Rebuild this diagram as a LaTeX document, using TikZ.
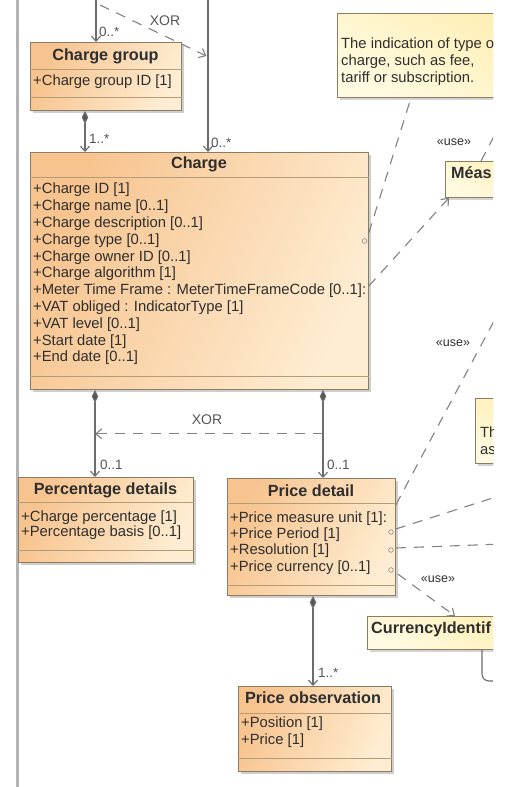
\documentclass[tikz,border=0pt]{standalone}
\usepackage{fontspec}
\setmainfont{Liberation Sans}
\usetikzlibrary{arrows.meta,shadows,calc}
\definecolor{clsA}{HTML}{F7C38E}
\definecolor{clsB}{HTML}{FEEDD2}
\definecolor{noteA}{HTML}{FFEFB4}
\definecolor{noteB}{HTML}{FFFBE2}
\definecolor{boxborder}{HTML}{8E7C62}
\definecolor{sepcol}{HTML}{B59B76}
\definecolor{linecol}{HTML}{6C6C6C}
\definecolor{txtcol}{HTML}{2E2E2E}
\definecolor{multcol}{HTML}{555555}
\definecolor{framecol}{HTML}{B4B4B4}
\newcommand{\attrfont}{\fontsize{14.8}{16.8}\selectfont}
\newcommand{\ttlfont}{\fontsize{16.2}{18}\selectfont\bfseries}
\newcommand{\multfont}{\fontsize{13.5}{15}\selectfont}
\newcommand{\stereofont}{\fontsize{12.5}{14}\selectfont}
\tikzset{
  cls/.style={draw=boxborder, line width=0.8pt, top color=clsA, bottom color=clsB,
    shading angle=65, inner sep=0pt, anchor=north west,
    drop shadow={shadow xshift=2.5pt, shadow yshift=-2.5pt, opacity=0.35, fill=black!55}},
  notebox/.style={draw=boxborder, line width=0.8pt, top color=noteA, bottom color=noteB,
    shading angle=-30, inner sep=0pt, anchor=north west,
    drop shadow={shadow xshift=2.5pt, shadow yshift=-2.5pt, opacity=0.3, fill=black!55}},
  ttl/.style={font=\ttlfont, text=txtcol, inner sep=0pt},
  attr/.style={font=\attrfont, text=txtcol, inner sep=0pt, anchor=west},
  sepline/.style={draw=sepcol, line width=0.7pt},
  assoc/.style={draw=linecol, line width=1.1pt},
  comp/.style={assoc, {Diamond[length=13pt,width=6.5pt,fill=linecol!80!black]}-{Straight Barb[length=5pt,width=9pt]}},
  navi/.style={assoc, -{Straight Barb[length=5pt,width=9pt]}},
  dep/.style={draw=linecol!85, line width=1.1pt, dash pattern=on 10pt off 8pt},
  deparrow/.style={dep, -{Straight Barb[length=6pt,width=10pt]}},
  mult/.style={font=\multfont, text=multcol, inner sep=0pt, anchor=west},
  stereo/.style={font=\stereofont, text=txtcol, inner sep=0pt},
  anchormark/.style={draw=linecol!80, line width=0.6pt}
}
\begin{document}
\begin{tikzpicture}[x=1pt,y=-1pt]
\useasboundingbox[fill=white] (0,0) rectangle (506,787);
\begin{scope}
\clip (0,0) rectangle (493,787);

% frame line on the left
\draw[framecol, line width=3pt] (17,0) -- (17,787);

% ---------- notes and other classifiers ----------
\node[notebox, minimum width=200pt, minimum height=84pt] (note1) at (337,13) {};
\node[attr, anchor=north west, align=left, font=\attrfont] (note1txt) at (341,38)
  {The indication of type of\\charge, such as fee,\\tariff or subscription.};

\node[notebox, minimum width=100pt, minimum height=36pt] (meas) at (445,161) {};
\node[ttl, anchor=west] (measT) at (451,173) {Méas};

\node[notebox, minimum width=60pt, minimum height=65pt] (note2) at (475,398) {};
\node[attr, anchor=west] (note2a) at (480,432) {Th};
\node[attr, anchor=west] (note2b) at (480,451) {as};

\node[notebox, minimum width=160pt, minimum height=33pt] (cur) at (367,616) {};
\node[ttl, anchor=west] (curT) at (371,629) {CurrencyIdentif};

% ---------- Charge group ----------
\node[cls, minimum width=151pt, minimum height=68pt] (cg) at (30,42) {};
\node[ttl] (cgT) at (105.5,56) {Charge group};
\draw[sepline] (cg.north west |- 0,69) -- (cg.north east |- 0,69);
\node[attr] (cgA) at (33,82) {+Charge group ID [1]};
\draw[sepline] (cg.north west |- 0,97) -- (cg.north east |- 0,97);

% ---------- Charge ----------
\node[cls, minimum width=338pt, minimum height=237pt] (charge) at (30,152) {};
\node[ttl] (chargeT) at (199,164) {Charge};
\draw[sepline] (charge.north west |- 0,177) -- (charge.north east |- 0,177);
\foreach \t [count=\i] in {+Charge ID [1], +Charge name [0..1], +Charge description [0..1],
  +Charge type [0..1], +Charge owner ID [0..1], +Charge algorithm [1],
  +Meter Time Frame : MeterTimeFrameCode [0..1]:, +VAT obliged : IndicatorType [1],
  +VAT level [0..1], +Start date [1], +End date [0..1]}
  \node[attr] (chA\i) at (33,{190+16.8*(\i-1)}) {\t};
\draw[sepline] (charge.north west |- 0,376) -- (charge.north east |- 0,376);
\draw[anchormark] (364.5,241) circle (2.4pt);

% ---------- Percentage details ----------
\node[cls, minimum width=175pt, minimum height=85pt] (pct) at (18,477) {};
\node[ttl] (pctT) at (105.5,490) {Percentage details};
\draw[sepline] (pct.north west |- 0,502) -- (pct.north east |- 0,502);
\node[attr] (pctA1) at (21,517.5) {+Charge percentage [1]};
\node[attr] (pctA2) at (21,533) {+Percentage basis [0..1]};
\draw[sepline] (pct.north west |- 0,550) -- (pct.north east |- 0,550);

% ---------- Price detail ----------
\node[cls, minimum width=168pt, minimum height=117pt] (pd) at (227,478) {};
\node[ttl] (pdT) at (311,491) {Price detail};
\draw[sepline] (pd.north west |- 0,503) -- (pd.north east |- 0,503);
\node[attr] (pdA1) at (230,519) {+Price measure unit [1]:};
\node[attr] (pdA2) at (230,535) {+Price Period [1]};
\node[attr] (pdA3) at (230,551) {+Resolution [1]};
\node[attr] (pdA4) at (230,568) {+Price currency [0..1]};
\draw[sepline] (pd.north west |- 0,585) -- (pd.north east |- 0,585);
\draw[anchormark] (391,532) circle (2.3pt);
\draw[anchormark] (391,550) circle (2.3pt);
\draw[anchormark] (391,570) circle (2.3pt);

% ---------- Price observation ----------
\node[cls, minimum width=153pt, minimum height=85pt] (po) at (238,686) {};
\node[ttl] (poT) at (313,698) {Price observation};
\draw[sepline] (po.north west |- 0,713) -- (po.north east |- 0,713);
\node[attr] (poA1) at (241,724) {+Position [1]};
\node[attr] (poA2) at (241,741) {+Price [1]};
\draw[sepline] (po.north west |- 0,758) -- (po.north east |- 0,758);

% ---------- associations ----------
\coordinate (topL) at (96,-5);
\coordinate (topR) at (208,-5);
\coordinate (cgIn) at ([xshift=66pt]cg.north west);
\coordinate (chIn) at ([xshift=178pt]charge.north west);
\draw[navi] (topL) -- (cgIn);
\draw[navi] (topR) -- (chIn);
\node[mult] (m1) at (99,32) {0..*};
\node[mult] (m2) at (211,143) {0..*};

\coordinate (xorS) at (100,5);
\coordinate (xorE) at (206.5,56);
\draw[deparrow] (xorS) -- (xorE);
\node[font=\fontsize{14}{16}\selectfont, text=multcol] (xor1) at (165,21) {XOR};

\coordinate (cgOut) at ([xshift=55pt]cg.south west);
\draw[comp] (cgOut) -- (cgOut |- charge.north);
\node[mult] (m3) at (89,139) {1..*};

\coordinate (chOutL) at ([xshift=65pt]charge.south west);
\coordinate (chOutR) at ([xshift=293pt]charge.south west);
\draw[comp] (chOutL) -- (chOutL |- pct.north);
\draw[comp] (chOutR) -- (chOutR |- pd.north);
\node[mult] (m4) at (100,465) {0..1};
\node[mult] (m5) at (327,465) {0..1};
\draw[deparrow] ($(chOutR)+(0,44)$) -- ($(chOutL)+(0,44)$);
\node[font=\fontsize{14}{16}\selectfont, text=multcol] (xor2) at (207,420) {XOR};

\coordinate (pdOut) at ([xshift=86pt]pd.south west);
\draw[comp] (pdOut) -- (pdOut |- po.north);
\node[mult] (m6) at (318,673) {1..*};

% ---------- dependencies and note anchors ----------
\draw[dep] ([yshift=-81pt]charge.north east) -- ([xshift=74pt]note1.south west);
\draw[deparrow] ([yshift=-134pt]charge.north east) -- ([xshift=4pt]meas.south west);
\coordinate (measUp) at (502,121);
\draw[dep] ([xshift=36pt]meas.north west) -- (measUp);
\node[stereo] (st1) at (454,142) {«use»};

\coordinate (pdUp) at (502,306);
\draw[dep] ([yshift=-27pt]pd.north east) -- (pdUp);
\node[stereo] (st2) at (453,343) {«use»};
\coordinate (pdR1) at (502,495);
\draw[dep] ([yshift=-51pt]pd.north east) -- (pdR1);
\coordinate (pdR2) at (502,544);
\draw[dep] ([yshift=-70pt]pd.north east) -- (pdR2);
\draw[deparrow] ([yshift=-96pt,xshift=2pt]pd.north east) -- ([xshift=88pt]cur.north west);
\node[stereo] (st3) at (438,579) {«use»};

\coordinate (curR) at (502,681);
\draw[assoc, rounded corners=7pt] ([xshift=115pt]cur.south west) -- ([xshift=115pt]cur.south west |- curR) -- (curR);
\end{scope}
\end{tikzpicture}
\end{document}
